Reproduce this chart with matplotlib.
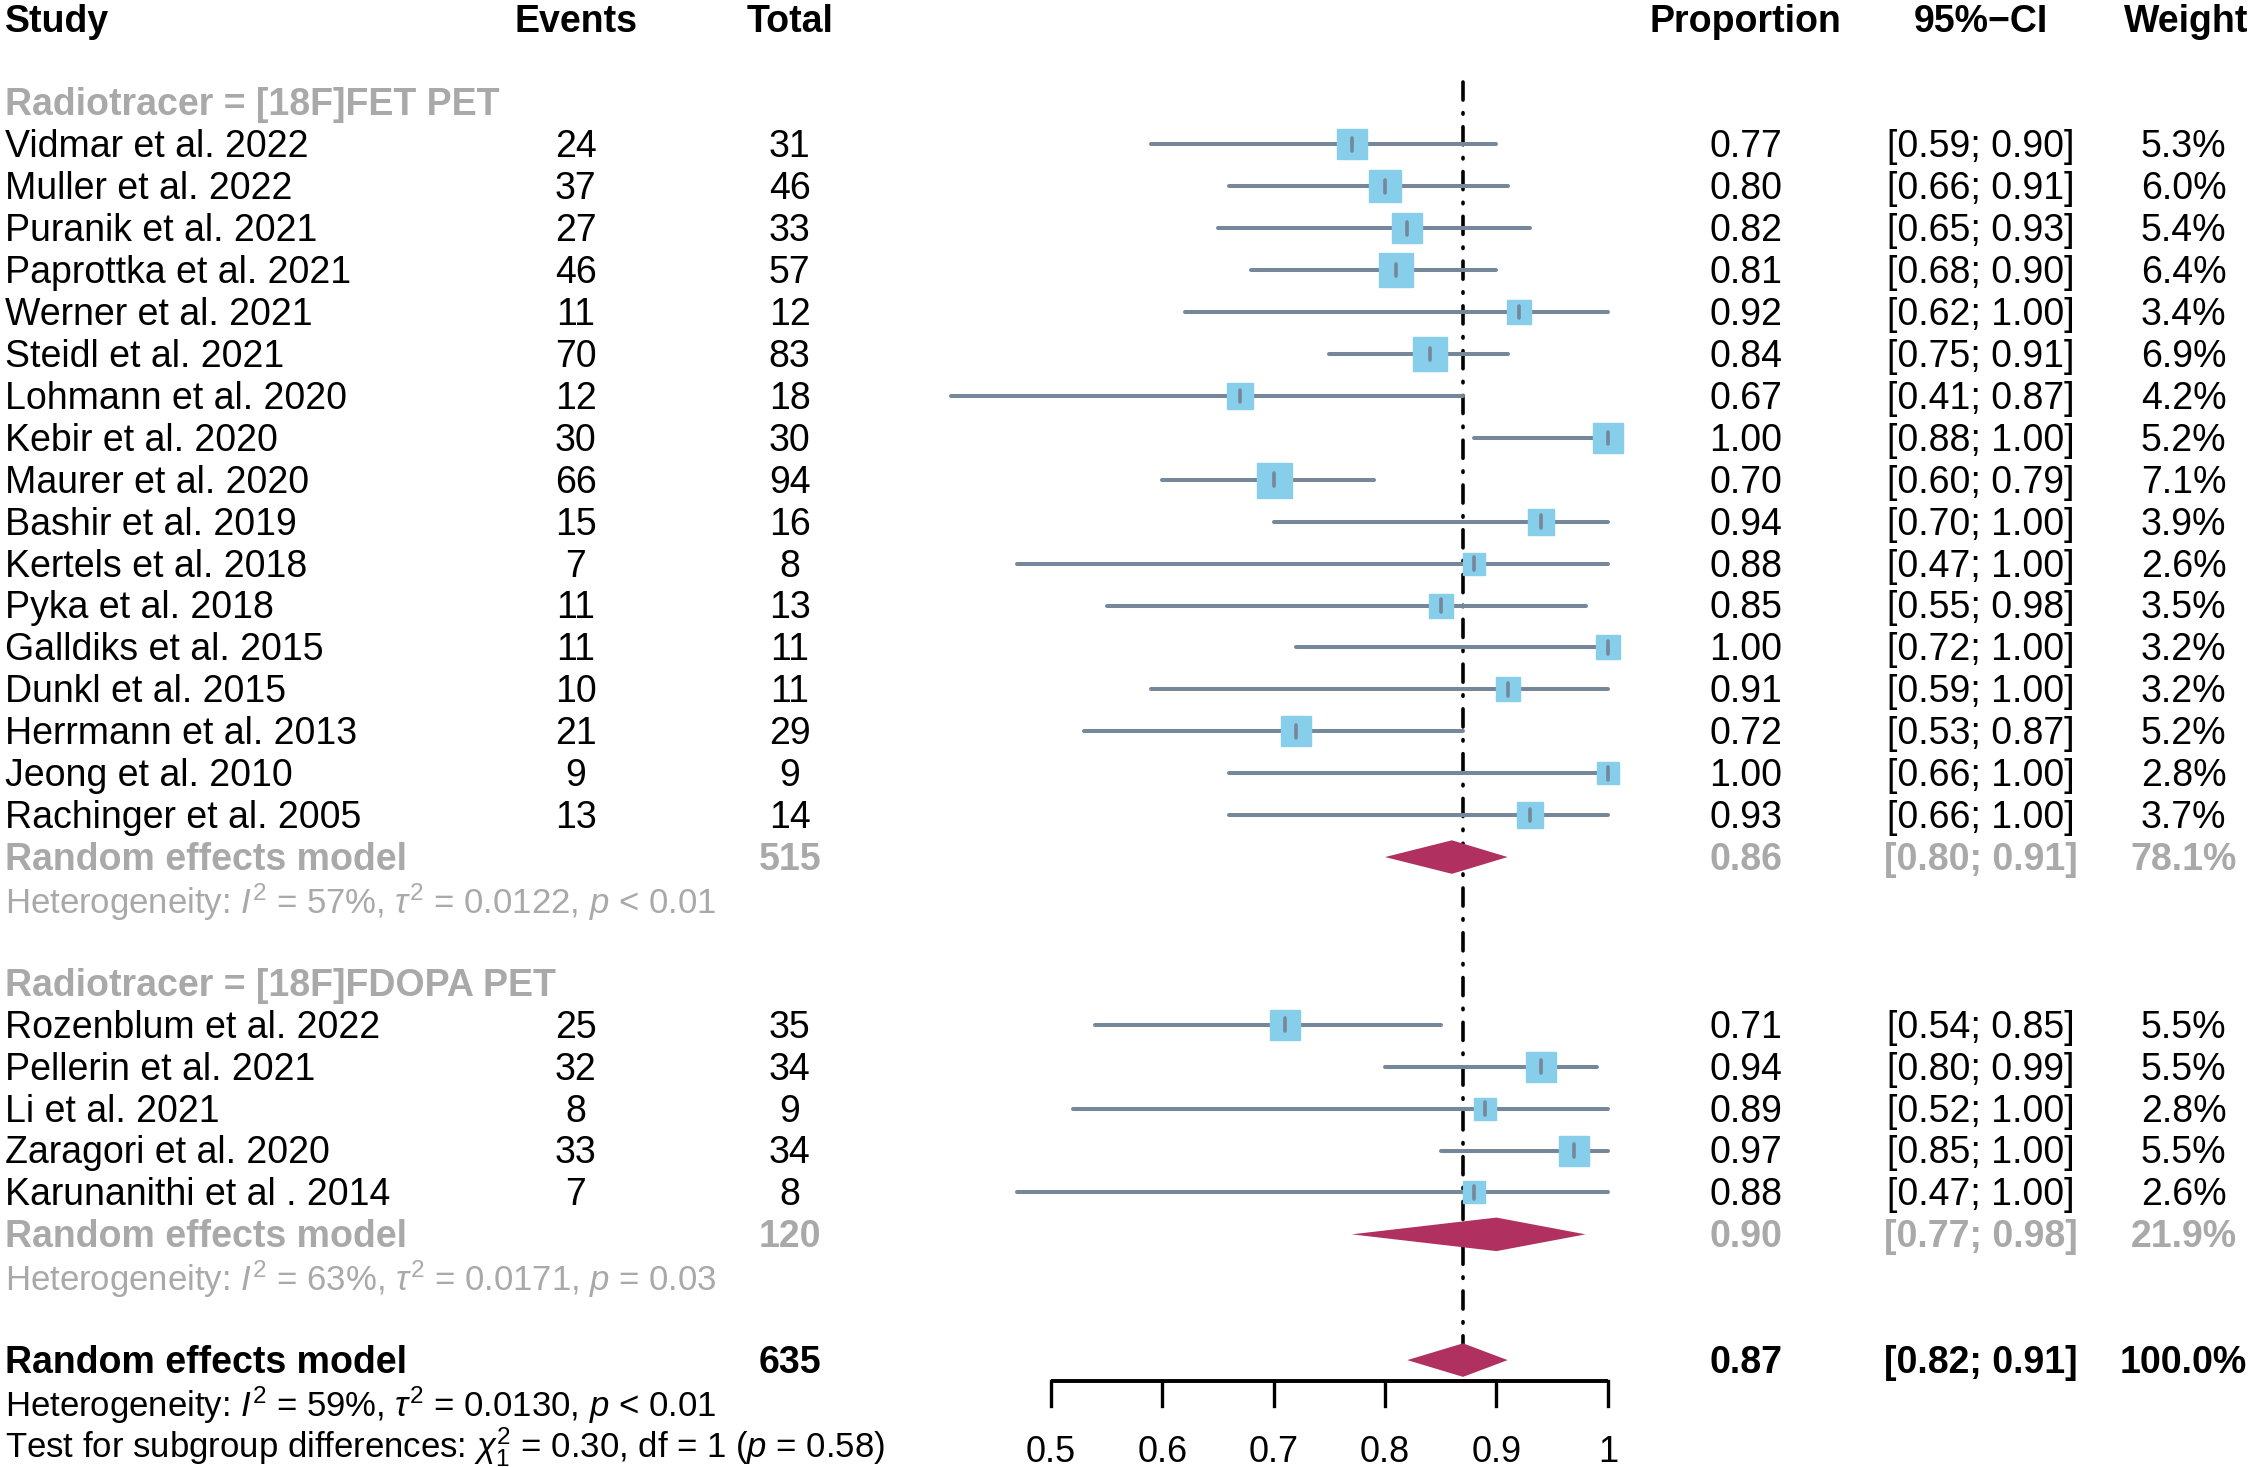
import matplotlib
matplotlib.use("Agg")
import matplotlib.pyplot as plt
import matplotlib.transforms as mtransforms

plt.rcParams['font.family'] = ['Liberation Sans', 'DejaVu Sans']
plt.rcParams['mathtext.fontset'] = 'custom'
plt.rcParams['mathtext.rm'] = 'Liberation Sans'
plt.rcParams['mathtext.it'] = 'Liberation Sans:italic'

# ---- data ----
fet_studies = ["Vidmar et al. 2022", "Muller et al. 2022", "Puranik et al. 2021",
               "Paprottka et al. 2021", "Werner et al. 2021", "Steidl et al. 2021",
               "Lohmann et al. 2020", "Kebir et al. 2020", "Maurer et al. 2020",
               "Bashir et al. 2019", "Kertels et al. 2018", "Pyka et al. 2018",
               "Galldiks et al. 2015", "Dunkl et al. 2015", "Herrmann et al. 2013",
               "Jeong et al. 2010", "Rachinger et al. 2005"]
fet_events = [24, 37, 27, 46, 11, 70, 12, 30, 66, 15, 7, 11, 11, 10, 21, 9, 13]
fet_total = [31, 46, 33, 57, 12, 83, 18, 30, 94, 16, 8, 13, 11, 11, 29, 9, 14]
fet_prop = [0.77, 0.80, 0.82, 0.81, 0.92, 0.84, 0.67, 1.00, 0.70, 0.94, 0.88, 0.85,
            1.00, 0.91, 0.72, 1.00, 0.93]
fet_lower = [0.59, 0.66, 0.65, 0.68, 0.62, 0.75, 0.41, 0.88, 0.60, 0.70, 0.47, 0.55,
             0.72, 0.59, 0.53, 0.66, 0.66]
fet_upper = [0.90, 0.91, 0.93, 0.90, 1.00, 0.91, 0.87, 1.00, 0.79, 1.00, 1.00, 0.98,
             1.00, 1.00, 0.87, 1.00, 1.00]
fet_weight = [5.3, 6.0, 5.4, 6.4, 3.4, 6.9, 4.2, 5.2, 7.1, 3.9, 2.6, 3.5, 3.2, 3.2,
              5.2, 2.8, 3.7]

dopa_studies = ["Rozenblum et al. 2022", "Pellerin et al. 2021", "Li et al. 2021",
                "Zaragori et al. 2020", "Karunanithi et al . 2014"]
dopa_events = [25, 32, 8, 33, 7]
dopa_total = [35, 34, 9, 34, 8]
dopa_prop = [0.71, 0.94, 0.89, 0.97, 0.88]
dopa_lower = [0.54, 0.80, 0.52, 0.85, 0.47]
dopa_upper = [0.85, 0.99, 1.00, 1.00, 1.00]
dopa_weight = [5.5, 5.5, 2.8, 5.5, 2.6]

# pooled results: subgroup FET, subgroup FDOPA, overall
pooled_n = [515, 120, 635]
pooled_prop = [0.86, 0.90, 0.87]
pooled_lower = [0.80, 0.77, 0.82]
pooled_upper = [0.91, 0.98, 0.91]
pooled_weight = [78.1, 21.9, 100.0]
het_text = [r"Heterogeneity: $I^2$ = 57%, $\tau^2$ = 0.0122, $p$ < 0.01",
            r"Heterogeneity: $I^2$ = 63%, $\tau^2$ = 0.0171, $p$ = 0.03",
            r"Heterogeneity: $I^2$ = 59%, $\tau^2$ = 0.0130, $p$ < 0.01"]
subgroup_test = r"Test for subgroup differences: $\chi^2_1$ = 0.30, df = 1 ($p$ = 0.58)"
xticks = [0.5, 0.6, 0.7, 0.8, 0.9, 1.0]
xtick_labels = ["0.5", "0.6", "0.7", "0.8", "0.9", "1"]

# ---- styling ----
FS = 27
GRAY = '#A9A9A9'
SQ_COL = '#87CEEB'
CI_COL = '#76879A'
DIA_COL = '#B03060'

fig = plt.figure(figsize=(22.51, 14.67), dpi=100)
ax = fig.add_axes([0, 0, 1, 1])
# x in proportion units: 0.5 at 732/1568, 1.0 at 1120/1568 of width
ax.set_xlim(0.5 - 732 / 776, 0.5 + (1568 - 732) / 776)
ax.set_ylim(34.55, -0.445)
ax.axis('off')

tcol = mtransforms.blended_transform_factory(ax.transAxes, ax.transData)
X_STUDY, X_EV, X_TOT = 0.002, 0.2557, 0.3508
X_PROP, X_CI, X_W = 0.7755, 0.880, 0.9700
DY = 0.07  # small nudge so the text sits like the reference


def txt(x, y, s, ha='center', fs=FS, **kw):
    ax.text(x, y + DY, s, transform=tcol, ha=ha, va='center', fontsize=fs, **kw)


# headers
txt(X_STUDY, 0, "Study", ha='left', fontweight='bold')
txt(X_EV, 0, "Events", fontweight='bold')
txt(X_TOT, 0, "Total", fontweight='bold')
txt(X_PROP, 0, "Proportion", fontweight='bold')
txt(X_CI, 0, "95%\u2212CI", fontweight='bold')
txt(0.9712, 0, "Weight", fontweight='bold')


def fmt_ci(lo, hi):
    return "[{:.2f}; {:.2f}]".format(lo, hi)


def draw_pooled(y, k, col):
    txt(X_STUDY, y, "Random effects model", ha='left', fontweight='bold', color=col)
    txt(X_TOT, y, str(pooled_n[k]), fontweight='bold', color=col)
    txt(X_PROP, y, "{:.2f}".format(pooled_prop[k]), fontweight='bold', color=col)
    txt(X_CI, y, fmt_ci(pooled_lower[k], pooled_upper[k]), fontweight='bold', color=col)
    txt(X_W, y, "{:.1f}%".format(pooled_weight[k]), fontweight='bold', color=col)
    h = 0.4
    ax.fill([pooled_lower[k], pooled_prop[k], pooled_upper[k], pooled_prop[k]],
            [y, y - h, y, y + h], color=DIA_COL, lw=0, zorder=3)


def draw_group(start, title, names, ev, tot, prop, lo, hi, w, k):
    txt(X_STUDY, start, title, ha='left', fontweight='bold', color=GRAY)
    for i in range(len(names)):
        y = start + 1 + i
        txt(X_STUDY, y, names[i], ha='left')
        txt(X_EV, y, str(ev[i]))
        txt(X_TOT, y, str(tot[i]))
        txt(X_PROP, y, "{:.2f}".format(prop[i]))
        txt(X_CI, y, fmt_ci(lo[i], hi[i]))
        txt(X_W, y, "{:.1f}%".format(w[i]))
        ax.plot([lo[i], hi[i]], [y, y], color=CI_COL, lw=2.9,
                solid_capstyle='round', zorder=2)
        side = 35 * (w[i] / 7.1) ** 0.5
        ax.plot(prop[i], y, marker='s', ms=side * 0.72, color=SQ_COL,
                mec=SQ_COL, zorder=3)
        ax.plot([prop[i], prop[i]], [y - 0.15, y + 0.15], color=CI_COL, lw=2.6,
                solid_capstyle='round', zorder=4)
    y = start + 1 + len(names)
    draw_pooled(y, k, GRAY)
    txt(X_STUDY, y + 1, het_text[k], ha='left', color=GRAY, fs=FS - 2)


draw_group(2, "Radiotracer = [18F]FET PET", fet_studies, fet_events, fet_total,
           fet_prop, fet_lower, fet_upper, fet_weight, 0)
draw_group(23, "Radiotracer = [18F]FDOPA PET", dopa_studies, dopa_events, dopa_total,
           dopa_prop, dopa_lower, dopa_upper, dopa_weight, 1)

# overall
draw_pooled(32, 2, 'black')
txt(X_STUDY, 33, het_text[2], ha='left', fs=FS - 2)
txt(X_STUDY, 34, subgroup_test, ha='left', fs=FS - 2)

# reference line at overall estimate
ax.plot([pooled_prop[2], pooled_prop[2]], [1.5, 32.45], color='black', lw=2.6,
        dashes=(5, 3.5, 0.4, 3.5), dash_capstyle='round', zorder=1)

# x axis
y_ax = 32.5
ax.plot([xticks[0], xticks[-1]], [y_ax, y_ax], color='black', lw=2.8,
        solid_capstyle='butt')
for t, lab in zip(xticks, xtick_labels):
    ax.plot([t, t], [y_ax, y_ax + 0.6], color='black', lw=2.4)
    ax.text(t, 34.2, lab, ha='center', va='center', fontsize=FS - 1)

fig.savefig("out.png", dpi=100)
